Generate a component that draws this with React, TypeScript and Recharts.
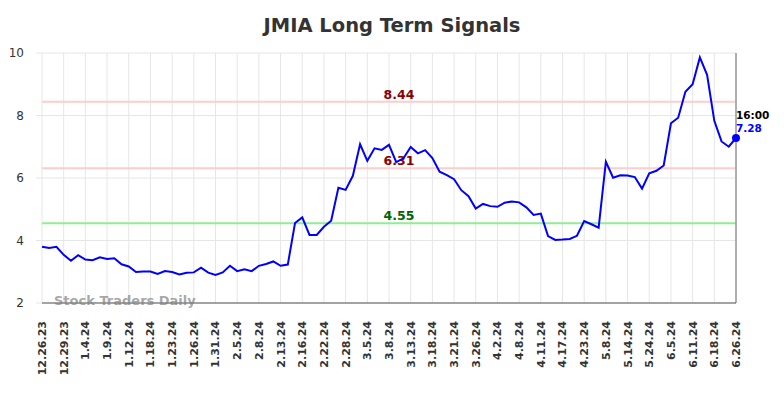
import { LineChart, Line, XAxis, YAxis, CartesianGrid, ReferenceLine } from 'recharts';

const tickLabels = [
  '12.26.23', '12.29.23', '1.4.24', '1.9.24', '1.12.24', '1.18.24', '1.23.24', '1.26.24', '1.31.24',
  '2.5.24', '2.8.24', '2.13.24', '2.16.24', '2.22.24', '2.28.24', '3.5.24', '3.8.24', '3.13.24',
  '3.18.24', '3.21.24', '3.26.24', '4.2.24', '4.8.24', '4.11.24', '4.17.24', '4.23.24', '5.8.24',
  '5.14.24', '5.24.24', '6.5.24', '6.11.24', '6.18.24', '6.26.24'
];

// closing prices, one per trading day, labels fall on every 3rd point
const prices = [
  3.80, 3.76, 3.80, 3.54, 3.35, 3.53, 3.39, 3.37, 3.46, 3.41,
  3.43, 3.24, 3.17, 2.99, 3.01, 3.01, 2.93, 3.02, 2.99, 2.91,
  2.97, 2.98, 3.13, 2.97, 2.90, 2.98, 3.19, 3.02, 3.08, 3.02,
  3.19, 3.25, 3.33, 3.19, 3.23, 4.56, 4.74, 4.18, 4.18, 4.44,
  4.63, 5.69, 5.62, 6.07, 7.08, 6.55, 6.95, 6.90, 7.06, 6.51,
  6.63, 6.99, 6.79, 6.89, 6.64, 6.20, 6.09, 5.96, 5.61, 5.42,
  5.02, 5.17, 5.10, 5.08, 5.21, 5.25, 5.22, 5.06, 4.82, 4.86,
  4.14, 4.02, 4.03, 4.05, 4.15, 4.62, 4.52, 4.41, 6.52, 6.01,
  6.09, 6.08, 6.03, 5.66, 6.15, 6.23, 6.40, 7.75, 7.93, 8.76,
  9.00, 9.86, 9.30, 7.83, 7.17, 7.00, 7.28
];

const resistanceLevels = [8.44, 6.31];
const supportLevels = [4.55];
const yTicks = [2, 4, 6, 8, 10];
const lastTime = '16:00';

const data = prices.map((price, idx) => ({ idx, price }));
const xTicks = tickLabels.map((_, k) => k * 3);

const FONT = '"DejaVu Sans", sans-serif';

const XTick = (props: any) => {
  const { x, y, payload } = props;
  const label = tickLabels[payload.value / 3];
  const ty = y + 10;
  return (
    <text
      x={x}
      y={ty}
      transform={`rotate(-90, ${x}, ${ty})`}
      textAnchor="end"
      dy="0.36em"
      fontSize={11}
      fontWeight="bold"
      fill="#333"
      fontFamily={FONT}
    >
      {label}
    </text>
  );
};

const levelLabel = (value: number, color: string) => (props: any) => {
  const vb = props.viewBox;
  return (
    <text
      x={vb.x + vb.width / 2 + 10}
      y={vb.y - 3}
      textAnchor="middle"
      fontSize={12.5}
      fontWeight="bold"
      fill={color}
      fontFamily={FONT}
    >
      {value.toFixed(2)}
    </text>
  );
};

const renderDot = (props: any) => {
  const { cx, cy, index } = props;
  if (index !== prices.length - 1) return <g key={`d${index}`} />;
  return (
    <g key={`d${index}`}>
      <circle cx={cx} cy={cy} r={4} fill="#0000ff" />
      <text x={cx} y={cy - 19} fontSize={10.5} fontWeight="bold" fill="#000" fontFamily={FONT}>
        {lastTime}
      </text>
      <text x={cx} y={cy - 6} fontSize={10.5} fontWeight="bold" fill="#0000ff" fontFamily={FONT}>
        {prices[prices.length - 1].toFixed(2)}
      </text>
    </g>
  );
};

export default function App() {
  return (
    <div style={{ position: 'absolute', left: 0, top: 0, width: 784, height: 398, background: '#fff', fontFamily: FONT }}>
      <div
        style={{
          position: 'absolute', left: 0, top: 14, width: 784, textAlign: 'center',
          fontSize: 19.5, fontWeight: 'bold', color: '#333', lineHeight: '24px'
        }}
      >
        JMIA Long Term Signals
      </div>
      <LineChart width={784} height={398} data={data} margin={{ top: 53, right: 48, bottom: 0, left: 0 }}>
        <CartesianGrid stroke="#e6e6e6" strokeWidth={1} />
        <XAxis
          dataKey="idx"
          type="number"
          domain={[0, prices.length - 1]}
          ticks={xTicks}
          interval={0}
          height={95}
          tickLine={false}
          axisLine={{ stroke: '#555', strokeWidth: 1 }}
          tick={<XTick />}
        />
        <YAxis
          domain={[2, 10]}
          ticks={yTicks}
          width={42}
          axisLine={false}
          tickLine={{ stroke: '#e6e6e6' }}
          tickSize={6}
          tickMargin={12}
          tick={{ fontSize: 12, fill: '#333', fontFamily: FONT }}
        />
        {resistanceLevels.map((v) => (
          <ReferenceLine key={`r${v}`} y={v} stroke="#ffcccc" strokeWidth={2} label={levelLabel(v, '#8b0000')} />
        ))}
        {supportLevels.map((v) => (
          <ReferenceLine key={`s${v}`} y={v} stroke="#90ee90" strokeWidth={2} label={levelLabel(v, '#006400')} />
        ))}
        <ReferenceLine x={prices.length - 1} stroke="#999" strokeWidth={1.5} />
        <Line
          type="linear"
          dataKey="price"
          stroke="#0000ff"
          strokeWidth={2}
          dot={renderDot}
          activeDot={false}
          isAnimationActive={false}
        />
      </LineChart>
      <div
        style={{
          position: 'absolute', left: 54, top: 293, fontSize: 13, fontWeight: 'bold',
          color: 'rgba(128,128,128,0.7)', lineHeight: '16px', whiteSpace: 'nowrap'
        }}
      >
        Stock Traders Daily
      </div>
    </div>
  );
}
